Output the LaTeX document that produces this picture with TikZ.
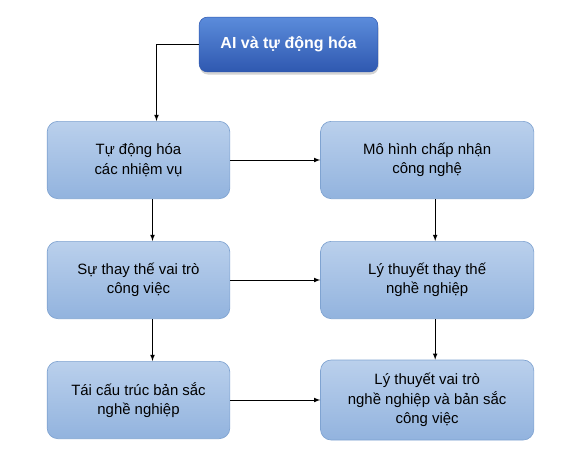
\documentclass[tikz,border=0pt]{standalone}
\usepackage{fontspec}
\setmainfont{Liberation Sans}
\usepackage{tikz}
\usepackage{xcolor}
\usetikzlibrary{arrows, shadows, calc, positioning}
\definecolor{topblue}{HTML}{5B8CDB}
\definecolor{topblue700}{HTML}{2F58B0}
\definecolor{boxblue}{HTML}{BAD0EC}
\definecolor{boxblue400}{HTML}{92B3DE}
\definecolor{boxedge}{HTML}{7FA3D1}
\tikzset{
  % Graph arrow style
  garr/.style={
    line width = 0.6pt
  },
}
\tikzset{
  %main topic box
  topic/.style={
    draw=topblue700
    , top color=topblue
    , bottom color=topblue700
    , text=white
    , font=\fontsize{12}{14}\selectfont\bfseries
    , line width=0.4pt
    , anchor=center
    , text centered
    , rounded corners=6pt
    , minimum width=134pt
    , minimum height=41pt
    , drop shadow={shadow xshift=0.5pt, shadow yshift=-2pt, opacity=0.35}
  },
}
\tikzset{
  %concept box style
  concept/.style={
    draw=boxedge
    , top color=boxblue
    , bottom color=boxblue400
    , line width=0.5pt
    , align=center
    , font=\fontsize{11.2}{14.5}\selectfont
    , rounded corners=8pt
    , minimum height=58pt
    %, minimum width={10em},
  },
  leftbox/.style={concept, minimum width=137pt},
  rightbox/.style={concept, minimum width=160pt},
}

\begin{document}
\begin{tikzpicture}[x=0.75pt, y=-0.75pt, node distance=31.5pt and 67.5pt]
        \useasboundingbox (0,0) rectangle (584,454);
        \node[topic] (ai) at (288.5,44.5) {AI và tự động hóa};
        % left column
        \node[leftbox] (tasks) at (138.5,160) {Tự động hóa\\các nhiệm vụ};
        \node[leftbox, below=of tasks] (replace) {Sự thay thế vai trò\\công việc};
        \node[leftbox, below=of replace] (identity) {Tái cấu trúc bản sắc\\nghề nghiệp};
        % right column
        \node[rightbox, right=of tasks] (tam) {Mô hình chấp nhận\\công nghệ};
        \node[rightbox, right=of replace] (subst) {Lý thuyết thay thế\\nghề nghiệp};
        \node[rightbox, right=of identity, minimum height=60pt] (role) {Lý thuyết vai trò\\nghề nghiệp và bản sắc\\công việc};
          \coordinate (drop) at ($(tasks.north)+(18,0)$);
          \draw[>=latex,->, garr]
            (ai.west)
            -|
            (drop);
          \foreach \a/\b in {tasks/replace, replace/identity} {
            \draw[>=latex,->, garr]
              ($(\a.south)+(14,0)$)
              to
              ($(\b.north)+(14,0)$);
          }
          \foreach \a/\b in {tam/subst, subst/role} {
            \draw[>=latex,->, garr]
              ($(\a.south)+(8,0)$)
              to
              ($(\b.north)+(8,0)$);
          }
          \foreach \a/\b in {tasks/tam, replace/subst, identity/role} {
            \draw[>=latex,->, garr]
              (\a.east)
              to
              (\b.west);
          }
      \end{tikzpicture}
\end{document}
